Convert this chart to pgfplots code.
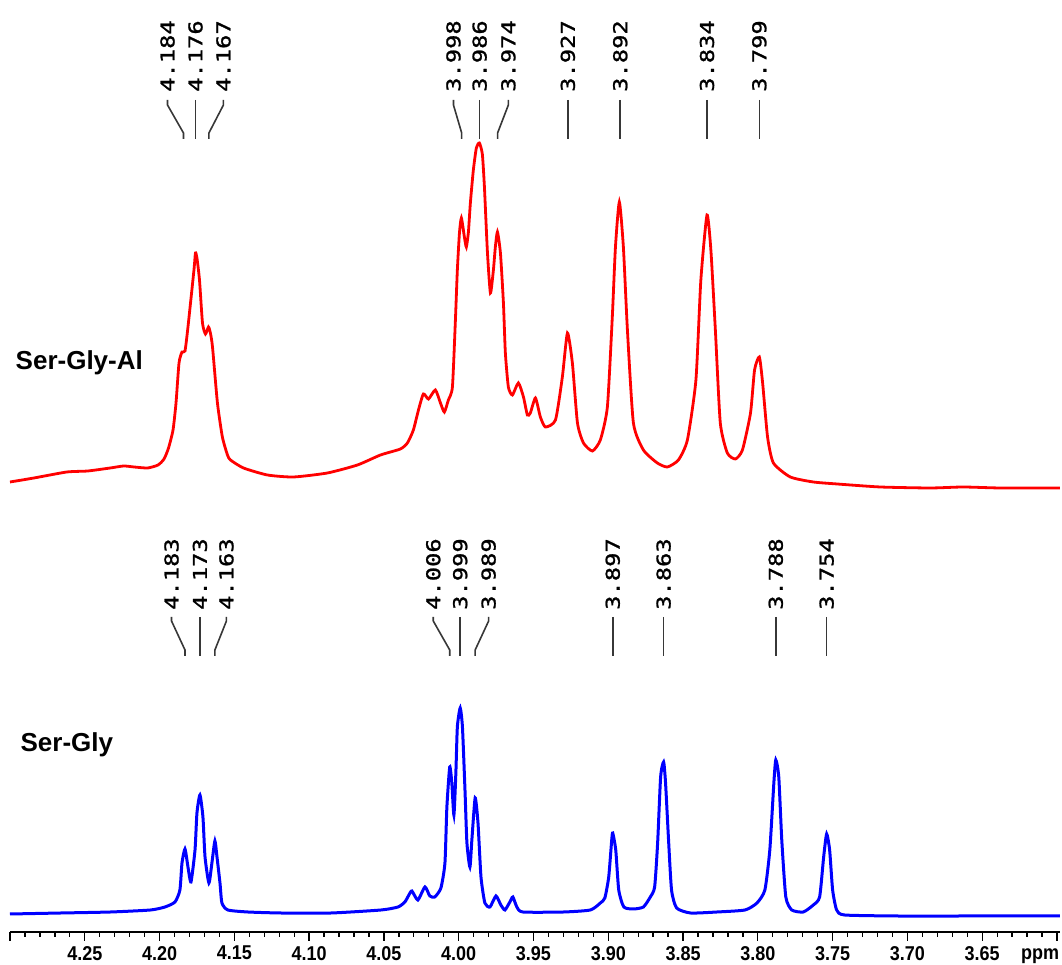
\documentclass[border=0pt]{standalone}
\usepackage{pgfplots}
\pgfplotsset{compat=1.18}
\usepackage{fontspec}
\setmainfont{Liberation Sans}
\newfontfamily\labfont[FakeStretch=1.25,FakeBold=1.2]{DejaVu Sans Mono}
\newfontfamily\ticfont[FakeStretch=0.9]{Liberation Sans}
\newfontfamily\namefont{Liberation Sans}
\definecolor{lblgray}{RGB}{55,55,55}
\begin{document}
\begin{tikzpicture}
\useasboundingbox (-10pt,-33pt) rectangle (1052pt,932pt);
\begin{axis}[
  scale only axis, width=1050pt, height=932pt,
  xmin=3.598, xmax=4.300, ymin=0, ymax=932,
  x dir=reverse, clip=false,
  axis x line*=bottom, axis y line=none,
  tick align=outside,
  xtick={3.60,3.65,3.70,3.75,3.80,3.85,3.90,3.95,4.00,4.05,4.10,4.15,4.20,4.25,4.30},
  xticklabels={,3.65,3.70,3.75,3.80,3.85,3.90,3.95,4.00,4.05,4.10,4.15,4.20,4.25,},
  minor x tick num=4,
  major tick length=9pt, minor tick length=5pt,
  every tick/.style={black, line width=1.3pt},
  x axis line style={line width=1.3pt},
  /pgf/number format/assume math mode=true,
  xticklabel style={font=\ticfont\bfseries\fontsize{20}{20}\selectfont, inner sep=0pt, yshift=-5pt},
]
% Ser-Gly-Al (red)
\addplot[red, line width=2.8pt, smooth, tension=0.35] coordinates {
(4.300,450)(4.284,454)(4.262,460)(4.248,461)(4.233,464)(4.224,466)(4.217,465)(4.208,464)
(4.201,467)(4.197,473)(4.194,484)(4.191,502)(4.189,529)(4.187,569)(4.185,580)(4.183,581)
(4.181,605)(4.177,662)(4.176,679)(4.175,674)(4.1733,652)(4.1713,609)(4.1693,598)(4.1673,605)
(4.166,599)(4.1646,585)(4.1613,529)(4.158,495)(4.1546,477)(4.1526,472)(4.1439,464)(4.1279,457)
(4.1105,455)(4.0878,459)(4.0677,467)(4.0523,477)(4.039,483)(4.0343,489)(4.0303,502)(4.0269,522)
(4.0236,538)(4.0202,533)(4.0156,542)(4.0122,529)(4.0096,520)(4.0069,532)(4.0042,545)(4.0022,612)
(4.0009,662)(3.9995,699)(3.9982,714)(3.9962,695)(3.9949,685)(3.9935,700)(3.9922,729)(3.9902,762)
(3.9882,784)(3.9862,789)(3.9842,778)(3.9828,745)(3.9808,680)(3.9788,639)(3.9768,662)(3.9755,685)
(3.9741,700)(3.9721,679)(3.9701,629)(3.9688,579)(3.9668,545)(3.9641,537)(3.9601,549)
(3.9567,535)(3.9541,517)(3.9521,519)(3.9487,534)(3.9454,515)(3.942,505)(3.9353,512)(3.9307,555)
(3.9273,599)(3.924,569)(3.9206,509)(3.9166,489)(3.9106,481)(3.9053,492)(3.9006,525)(3.8973,615)
(3.8952,685)(3.8926,730)(3.8899,685)(3.8872,602)(3.8832,509)(3.8765,482)(3.8672,469)(3.8605,465)
(3.8531,472)(3.8471,492)(3.8414,552)(3.8381,652)(3.834,717)(3.8314,682)(3.8284,602)(3.8251,509)
(3.8204,479)(3.815,473)(3.8103,482)(3.8049,519)(3.8022,562)(3.799,575)(3.7968,549)(3.7935,495)
(3.7896,469)(3.7783,455)(3.7629,450)(3.7469,448)(3.7181,445)(3.6847,444)(3.6627,445)(3.6379,444)
(3.598,444)
};
% Ser-Gly (blue)
\addplot[blue, line width=3pt, smooth, tension=0.35] coordinates {
(4.300,18)(4.266,19)(4.2328,20)(4.2061,22)(4.1964,25)(4.1897,30)(4.1864,42)(4.185,69)
(4.183,83)(4.181,65)(4.179,50)(4.1763,82)(4.175,119)(4.173,137)(4.171,115)(4.1696,75)
(4.167,49)(4.165,69)(4.163,91)(4.1616,75)(4.1596,49)(4.1583,29)(4.1543,22)(4.1409,20)
(4.1188,19)(4.0854,19)(4.052,22)(4.0406,25)(4.036,30)(4.0333,37)(4.0313,41)(4.0273,32)
(4.0226,45)(4.0193,36)(4.016,35)(4.0119,44)(4.0092,69)(4.0079,125)(4.006,165)(4.0046,149)
(4.0032,117)(4.0019,159)(4.0009,205)(3.999,224)(3.9975,205)(3.9958,142)(3.9945,89)(3.9925,65)
(3.9912,92)(3.989,134)(3.9871,109)(3.9851,55)(3.9825,29)(3.9791,25)(3.9751,36)(3.9718,27)
(3.9691,22)(3.9658,30)(3.9638,35)(3.9611,25)(3.9571,20)(3.93,20)(3.912,22)(3.9053,29)
(3.9023,34)(3.8997,55)(3.8977,92)(3.897,99)(3.895,82)(3.893,42)(3.8896,25)(3.8832,23)
(3.8765,25)(3.8719,35)(3.869,45)(3.867,89)(3.865,155)(3.863,170)(3.8617,149)(3.8597,92)
(3.8577,42)(3.8543,24)(3.845,19)(3.8274,20)(3.8086,22)(3.8006,29)(3.7953,42)(3.792,82)
(3.7893,149)(3.788,172)(3.786,155)(3.784,92)(3.7813,35)(3.7773,22)(3.7696,20)(3.7629,27)
(3.7587,35)(3.756,75)(3.754,98)(3.752,82)(3.750,42)(3.7473,22)(3.742,17)(3.7064,16)
(3.6627,16)(3.598,16)
};
% names
\node[anchor=west, inner sep=0pt, font=\namefont\bfseries\fontsize{26}{26}\selectfont] at (axis cs:4.2963,569) {Ser-Gly-Al};
\node[anchor=west, inner sep=0pt, font=\namefont\bfseries\fontsize{26}{26}\selectfont] at (axis cs:4.2930,187) {Ser-Gly};
% ppm
\node[anchor=base east, inner sep=0pt, font=\ticfont\bfseries\fontsize{20}{20}\selectfont] at (axis cs:3.5985,-27.5) {ppm};
% peak labels, top (red)
\tikzset{pl/.style={rotate=90, anchor=west, inner sep=0pt, font=\labfont\fontsize{19}{19}\selectfont}}
\foreach \lx/\px/\t in {4.1947/4.184/4.184, 4.176/4.176/4.176, 4.1573/4.167/4.167,
  4.0035/3.998/3.998, 3.986/3.986/3.986, 3.9668/3.974/3.974,
  3.927/3.927/3.927, 3.892/3.892/3.892, 3.834/3.834/3.834, 3.799/3.799/3.799} {
  \edef\tmp{\noexpand\node[pl] at (axis cs:\lx,840) {\t};
    \noexpand\draw[lblgray, line width=1.6pt] (axis cs:\lx,832) -- (axis cs:\lx,827) -- (axis cs:\px,799) -- (axis cs:\px,793);}
  \tmp
}
% peak labels, bottom (blue)
\foreach \lx/\px/\t in {4.192/4.183/4.183, 4.173/4.173/4.173, 4.1553/4.163/4.163,
  4.017/4.006/4.006, 3.999/3.999/3.999, 3.980/3.989/3.989,
  3.897/3.897/3.897, 3.863/3.863/3.863, 3.788/3.788/3.788, 3.754/3.754/3.754} {
  \edef\tmp{\noexpand\node[pl] at (axis cs:\lx,322) {\t};
    \noexpand\draw[lblgray, line width=1.6pt] (axis cs:\lx,315) -- (axis cs:\lx,311) -- (axis cs:\px,282) -- (axis cs:\px,276);}
  \tmp
}
\end{axis}
\end{tikzpicture}
\end{document}
